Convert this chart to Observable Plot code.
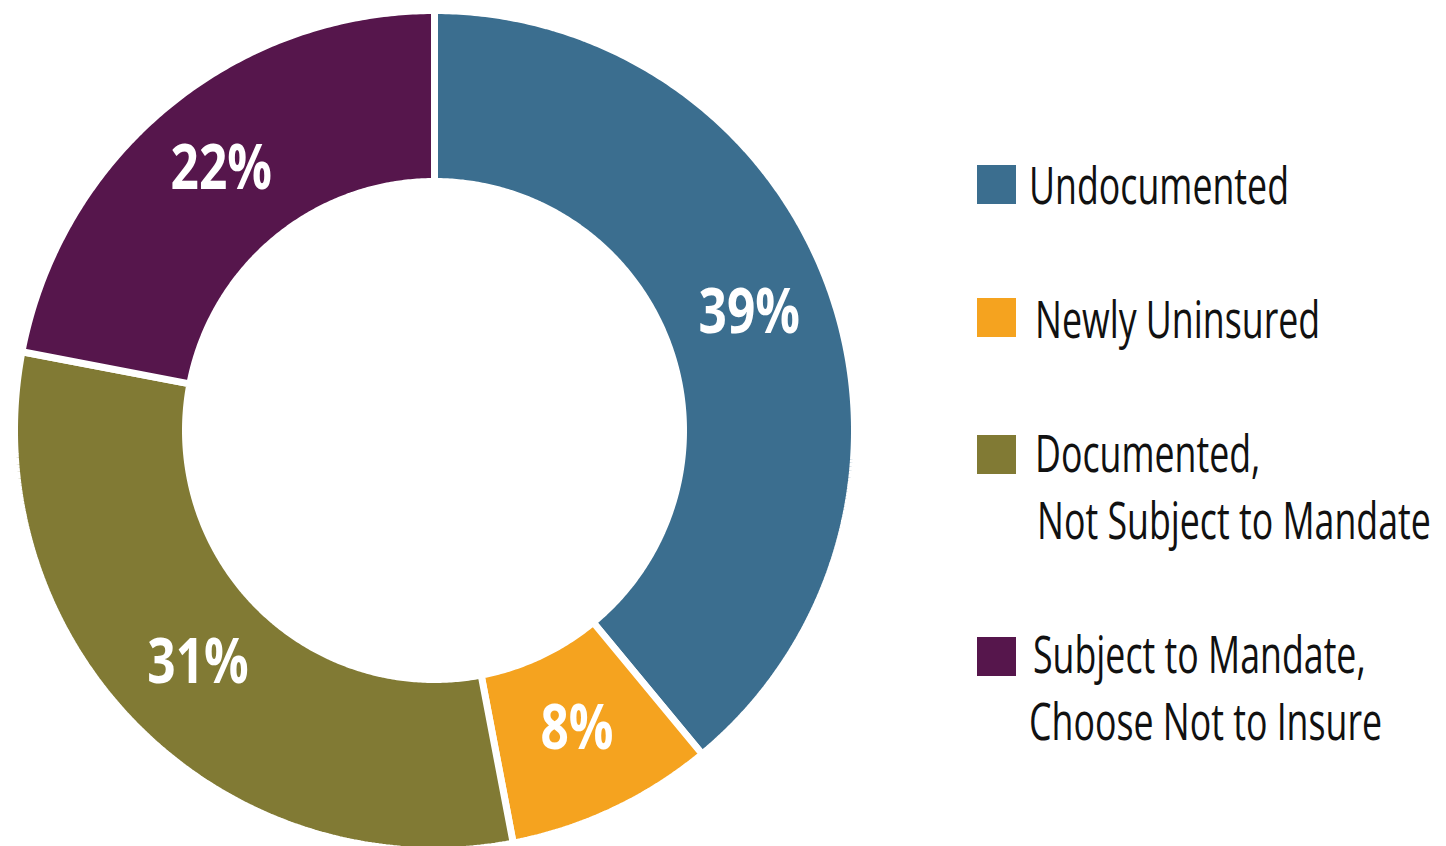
<!DOCTYPE html>
<html>
<head>
<meta charset="utf-8">
<script src="https://cdn.jsdelivr.net/npm/d3@7"></script>
<script src="https://cdn.jsdelivr.net/npm/@observablehq/plot@0.6"></script>
<style>
  html, body { margin: 0; padding: 0; background: #fff; }
  #wrap { position: relative; width: 1446px; height: 846px; overflow: hidden; }
  #chart { position: absolute; left: 0; top: 0; }
  .lg { position: absolute; font-family: "Open Sans", "DejaVu Sans Condensed", sans-serif; font-size: 51px; color: #111; line-height: 67px; white-space: nowrap; transform-origin: 0 50%; }
  .sw { position: absolute; width: 39px; height: 39px; }
</style>
</head>
<body>
<div id="wrap">
  <div id="chart"></div>
  <div id="legend"></div>
</div>
<script>
// ---- data ----
const categories = ["Undocumented", "Newly Uninsured", "Documented, Not Subject to Mandate", "Subject to Mandate, Choose Not to Insure"];
const values = [39, 8, 31, 22];
const colors = ["#3b6e8f", "#f5a31f", "#817a34", "#56164c"];
const legendLines = [["Undocumented"], ["Newly Uninsured"], ["Documented,", "Not Subject to Mandate"], ["Subject to Mandate,", "Choose Not to Insure"]];

// ---- geometry (data units: outer radius = 1) ----
const W = 900, H = 846, R = 420, cx = 434, cy = 430;
const inner = 249 / 420;
const total = d3.sum(values);

const slicePts = [];
const labels = [];
let acc = 0;
categories.forEach((c, i) => {
  const a0 = acc / total * 2 * Math.PI;
  acc += values[i];
  const a1 = acc / total * 2 * Math.PI;
  const n = Math.max(8, Math.ceil((a1 - a0) / (Math.PI / 360)));
  for (let k = 0; k <= n; k++) {
    const a = a0 + (a1 - a0) * k / n;
    slicePts.push({cat: c, x: Math.sin(a), y: Math.cos(a)});
  }
  for (let k = n; k >= 0; k--) {
    const a = a0 + (a1 - a0) * k / n;
    slicePts.push({cat: c, x: inner * Math.sin(a), y: inner * Math.cos(a)});
  }
  const am = (a0 + a1) / 2, rm = (1 + inner) / 2;
  labels.push({cat: c, x: rm * Math.sin(am), y: rm * Math.cos(am), text: values[i] + "%"});
});

const plot = Plot.plot({
  width: W,
  height: H,
  margin: 0,
  x: {domain: [-cx / R, (W - cx) / R], axis: null},
  y: {domain: [-(H - cy) / R, cy / R], axis: null},
  color: {domain: categories, range: colors},
  style: {background: "transparent", overflow: "visible"},
  marks: [
    Plot.line(slicePts, {x: "x", y: "y", z: "cat", fill: "cat", stroke: "white", strokeWidth: 7, strokeLinejoin: "miter", curve: "linear-closed"}),
    Plot.text(labels, {x: "x", y: "y", dy: -4, text: "text", fill: "white", fontSize: 62, fontWeight: "bold", fontFamily: "'Open Sans', 'DejaVu Sans Condensed', sans-serif"})
  ]
});
document.getElementById("chart").appendChild(plot);

// condense the percentage labels (the original uses a condensed face)
d3.select(plot).selectAll("text").each(function () {
  const len = this.getComputedTextLength();
  if (len > 0) {
    this.setAttribute("textLength", (len * 0.8).toFixed(1));
    this.setAttribute("lengthAdjust", "spacingAndGlyphs");
  }
});

// ---- legend ----
const legend = document.getElementById("legend");
const swTop = [165, 298, 435, 637];
const textTop = [151, 285, 419, 620];
const textLeft = [[1029], [1035], [1035, 1037], [1033, 1029]];
const nodes = [];
categories.forEach((c, i) => {
  const sw = document.createElement("div");
  sw.className = "sw";
  sw.style.left = "977px";
  sw.style.top = swTop[i] + "px";
  sw.style.background = colors[i];
  legend.appendChild(sw);
  legendLines[i].forEach((line, j) => {
    const t = document.createElement("div");
    t.className = "lg";
    t.textContent = line;
    t.style.left = textLeft[i][j] + "px";
    t.style.top = (textTop[i] + j * 67) + "px";
    legend.appendChild(t);
    nodes.push(t);
  });
});
// condense legend text so "Undocumented" spans ~260px as in the original
const refW = nodes[0].getBoundingClientRect().width;
const sx = refW > 0 ? 260 / refW : 0.78;
nodes.forEach(t => { t.style.transform = `scaleX(${sx})`; });
</script>
</body>
</html>
